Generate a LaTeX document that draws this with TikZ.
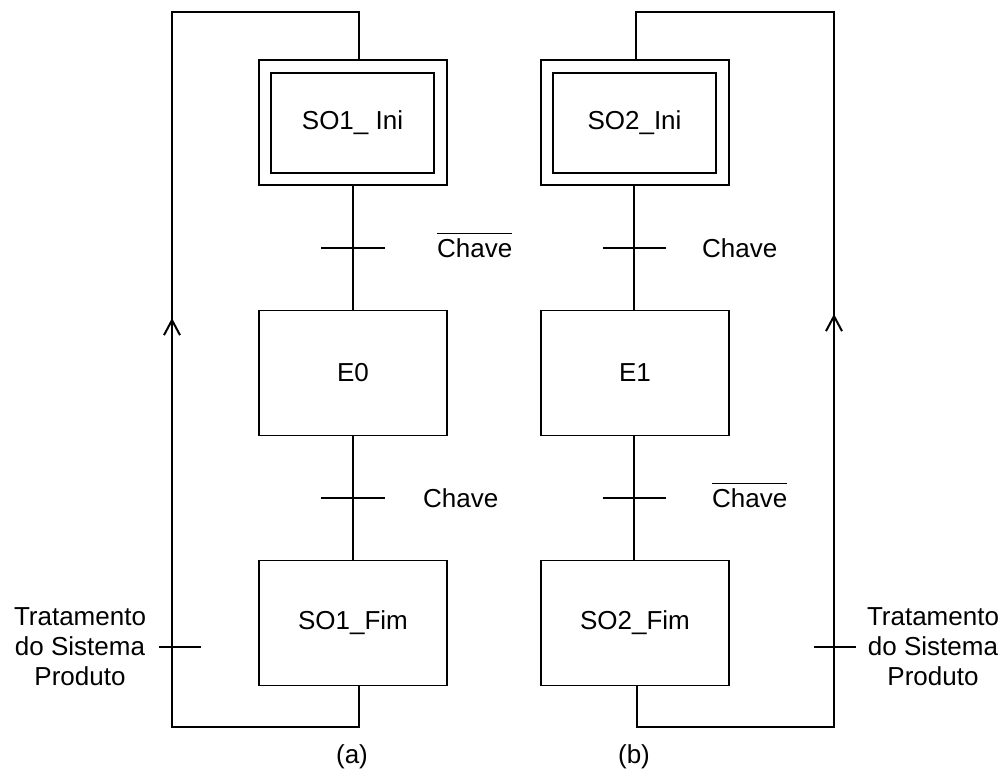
\documentclass[tikz,border=0pt]{standalone}
\usepackage{fontspec}
\setmainfont{Liberation Sans}
\usetikzlibrary{arrows.meta}
\begin{document}
\begin{tikzpicture}[x=1pt,y=-1pt,
  txt/.style={font=\fontsize{26}{30}\selectfont},
  stepbox/.style={draw, line width=1.4pt, minimum width=188pt, minimum height=125pt, inner sep=0pt, txt},
  innerbox/.style={draw, line width=1.4pt, minimum width=163pt, minimum height=100pt, inner sep=0pt, txt},
  link/.style={line width=1.3pt},
  bar/.style={line width=2pt},
  loopline/.style={line width=2pt},
  upar/.style={line width=2pt, -{Straight Barb[length=15pt,width=16pt]}},
  lbl/.style={txt, inner sep=0pt, anchor=base west},
  side/.style={txt, align=center, inner sep=0pt}]
\useasboundingbox (0,0) rectangle (1007,769);
% ---------- (a)
\node[stepbox] (ia) at (353,122.5) {};
\node[innerbox] (iai) at (352.5,123) {SO1\_ Ini};
\node[stepbox] (ea) at (353,373) {E0};
\node[stepbox] (fa) at (353,623) {SO1\_Fim};
\coordinate (ta1) at (353,248);
\coordinate (ta2) at (353,498);
\draw[link] (ia.south) -- (ea.north);
\draw[link] (ea.south) -- (fa.north);
\draw[bar] (321,248) -- (385,248);
\draw[bar] (321,498) -- (385,498);
\node[lbl] (ca1) at (437,257) {$\overline{\mbox{Chave}\rule{0pt}{22pt}}$};
\node[lbl] (ca2) at (423,507) {Chave};
\coordinate (la1) at (172,727);
\coordinate (la2) at (359,12);
\draw[loopline] ([xshift=6pt]fa.south) |- (la1) |- (la2) -- ([xshift=6pt]ia.north);
\draw[upar] (172,400) -- (172,318);
\draw[bar] (159,647) -- (201,647);
\node[side] (sa) at (80,647) {Tratamento\\do Sistema\\Produto};
\node[txt] (capa) at (352,757) {(a)};
% ---------- (b)
\node[stepbox] (ib) at (635,122.5) {};
\node[innerbox] (ibi) at (634.5,123) {SO2\_Ini};
\node[stepbox] (eb) at (635,373) {E1};
\node[stepbox] (fb) at (635,623) {SO2\_Fim};
\draw[link] (634,185) -- (634,311);
\draw[link] (634,435) -- (634,561);
\draw[bar] (603,248) -- (666,248);
\draw[bar] (603,498) -- (666,498);
\node[lbl] (cb1) at (702,257) {Chave};
\node[lbl] (cb2) at (712,507) {$\overline{\mbox{Chave}\rule{0pt}{22pt}}$};
\coordinate (lb1) at (834,727);
\coordinate (lb2) at (636,12);
\draw[loopline] ([xshift=2pt]fb.south) |- (lb1) |- (lb2) -- ([xshift=1pt]ib.north);
\draw[upar] (834,400) -- (834,314);
\draw[bar] (814,647) -- (856,647);
\node[side] (sb) at (933,647) {Tratamento\\do Sistema\\Produto};
\node[txt] (capb) at (634,757) {(b)};
\end{tikzpicture}
\end{document}
